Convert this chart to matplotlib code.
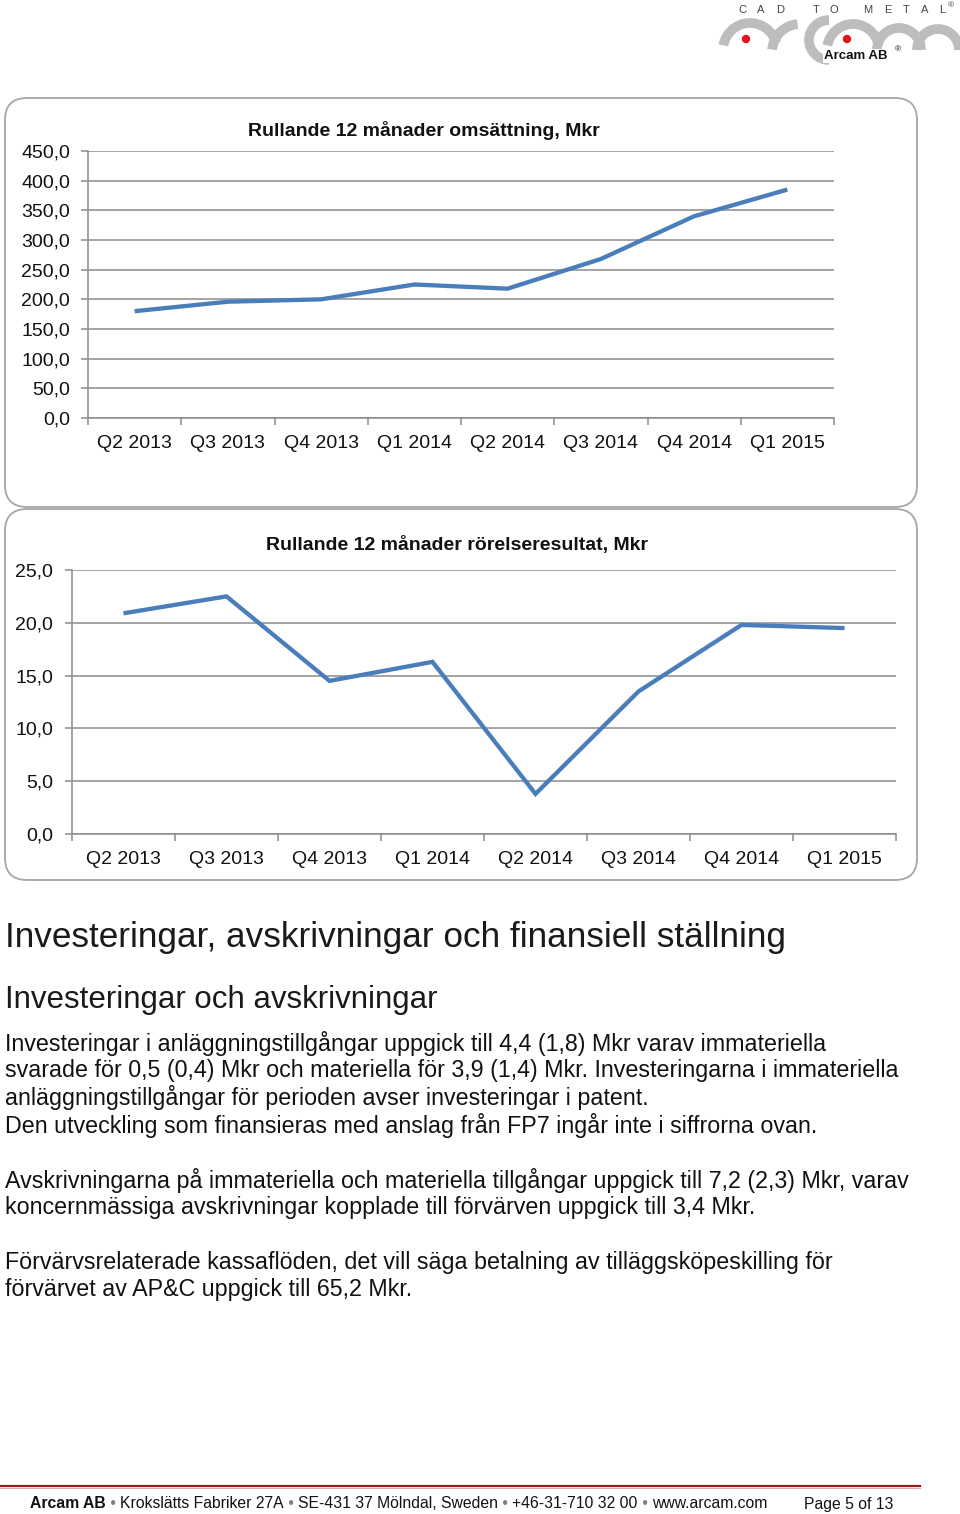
import matplotlib
matplotlib.use("Agg")
import matplotlib.pyplot as plt
from matplotlib.patches import FancyBboxPatch, Arc, Circle
from matplotlib.ticker import FixedLocator, FuncFormatter
import numpy as np

plt.rcParams['font.family'] = ['Liberation Sans', 'DejaVu Sans']

# data
quarters = ["Q2 2013", "Q3 2013", "Q4 2013", "Q1 2014",
            "Q2 2014", "Q3 2014", "Q4 2014", "Q1 2015"]
omsattning = [180, 196, 200, 225, 218, 268, 340, 385]
rorelseresultat = [20.9, 22.5, 14.5, 16.3, 3.8, 13.5, 19.8, 19.5]

title1 = "Rullande 12 månader omsättning, Mkr"
title2 = "Rullande 12 månader rörelseresultat, Mkr"
heading = "Investeringar, avskrivningar och finansiell ställning"
subheading = "Investeringar och avskrivningar"
body_lines = [
    "Investeringar i anläggningstillgångar uppgick till 4,4 (1,8) Mkr varav immateriella",
    "svarade för 0,5 (0,4) Mkr och materiella för 3,9 (1,4) Mkr. Investeringarna i immateriella",
    "anläggningstillgångar för perioden avser investeringar i patent.",
    "Den utveckling som finansieras med anslag från FP7 ingår inte i siffrorna ovan.",
    "",
    "Avskrivningarna på immateriella och materiella tillgångar uppgick till 7,2 (2,3) Mkr, varav",
    "koncernmässiga avskrivningar kopplade till förvärven uppgick till 3,4 Mkr.",
    "",
    "Förvärvsrelaterade kassaflöden, det vill säga betalning av tilläggsköpeskilling för",
    "förvärvet av AP&C uppgick till 65,2 Mkr.",
]
footer_parts = ["Arcam AB", "Krokslätts Fabriker 27A", "SE-431 37 Mölndal, Sweden",
                "+46-31-710 32 00", "www.arcam.com"]
page_text = "Page 5 of 13"

W, H = 960, 1514
fig = plt.figure(figsize=(W / 100, H / 100), dpi=100)

# background canvas in pixel coordinates
bg = fig.add_axes([0, 0, 1, 1], zorder=0)
bg.set_xlim(0, W)
bg.set_ylim(H, 0)
bg.axis("off")

box_col = "#a6a6a6"
for (x0, y0, x1, y1) in [(5, 98, 917, 507), (5, 509, 917, 880)]:
    bg.add_patch(FancyBboxPatch((x0, y0), x1 - x0, y1 - y0,
                                boxstyle="round,pad=0,rounding_size=22",
                                fc="white", ec=box_col, lw=1.3))

# logo
logo_gray = "#bdbdbd"
for cx, cy, r, t1, t2 in [(750, 50, 27, 15, 170), (800, 52, 28, 95, 175),
                          (829, 40, 20, 90, 270), (853, 50, 26, 10, 170),
                          (899, 50, 22, 0, 180), (938, 50, 21, 0, 180)]:
    bg.add_patch(Arc((cx, cy), 2 * r, 2 * r, theta1=-t2, theta2=-t1,
                     color=logo_gray, lw=7, capstyle="butt"))
for cx in (746, 847):
    bg.add_patch(Circle((cx, 39), 3.5, color="#e3141b", zorder=5))
for lx, ch in zip([742, 761, 780, 816, 834, 868, 888, 906, 925, 942],
                  "CADTOMETAL"):
    bg.text(lx, 10, ch, fontsize=8, color="#444444", ha="center", va="center")
bg.text(951, 6, "®", fontsize=6, color="#444444", ha="center", va="center")
bg.text(824, 56, "Arcam AB", fontsize=9.5, fontweight="bold", color="#111111",
        ha="left", va="center", zorder=6,
        bbox=dict(fc="white", ec="none", pad=0.5))
bg.text(898, 50, "®", fontsize=6, color="#111111", ha="center", va="center", zorder=6)

line_col = "#4a7ebb"
grid_col = "#8c8c8c"
tick_fmt = FuncFormatter(lambda v, p: f"{v:.1f}".replace(".", ","))


def make_chart(rect_px, values, ymax, ystep, title, title_x, title_y, xpad, ypad):
    l, t, r, b = rect_px
    ax = fig.add_axes([l / W, 1 - b / H, (r - l) / W, (b - t) / H], zorder=2)
    ax.patch.set_visible(False)
    x = np.arange(len(values))
    ax.plot(x, values, color=line_col, lw=3.1, solid_capstyle="butt",
            solid_joinstyle="miter", clip_on=False)
    ax.set_xlim(-0.5, len(values) - 0.5)
    ax.set_ylim(0, ymax)
    ax.yaxis.set_major_locator(FixedLocator(np.arange(0, ymax + ystep / 2, ystep)))
    ax.yaxis.set_major_formatter(tick_fmt)
    ax.set_xticks(x)
    ax.set_xticklabels(quarters)
    ax.set_xticks(np.arange(-0.5, len(values)), minor=True)
    ax.grid(axis="y", color=grid_col, lw=1.1)
    ax.set_axisbelow(True)
    for s in ("top", "right"):
        ax.spines[s].set_visible(False)
    for s in ("left", "bottom"):
        ax.spines[s].set_color(grid_col)
        ax.spines[s].set_linewidth(1.1)
    ax.tick_params(axis="x", which="major", length=0, pad=xpad, labelsize=14,
                   labelcolor="#111111")
    ax.tick_params(axis="x", which="minor", length=5, width=1.1, color=grid_col,
                   direction="out")
    ax.tick_params(axis="y", length=5, width=1.1, color=grid_col, pad=ypad,
                   labelsize=14, labelcolor="#111111")
    bg.text(title_x, title_y, title, fontsize=14, fontweight="bold",
            ha="center", va="center", color="#111111")
    return ax


make_chart((88, 151, 834, 418), omsattning, 450, 50, title1, 424, 130, 12, 8)
make_chart((72, 570, 896, 834), rorelseresultat, 25, 5, title2, 457, 545, 12.5, 8.5)

# text section
bg.text(5, 938, heading, fontsize=25.3, color="#1a1a1a", ha="left", va="center")
bg.text(5, 1000, subheading, fontsize=22.5, color="#1a1a1a", ha="left", va="center")
y = 1043
for line in body_lines:
    if line:
        bg.text(5, y, line, fontsize=16.75, color="#111111", ha="left", va="center")
    y += 27.4

# footer
bg.plot([0, 920], [1486, 1486], color="#9b1b1b", lw=1.6)
bg.plot([0, 920], [1488, 1488], color="#d9b0b0", lw=0.8)
fig.canvas.draw()
renderer = fig.canvas.get_renderer()
inv = bg.transData.inverted()
xpos = 30
fs_foot = 11.3
for i, part in enumerate(footer_parts):
    if i > 0:
        tb = bg.text(xpos, 1504, " • ", fontsize=fs_foot, color="#7f7f7f",
                     ha="left", va="center")
        ext = tb.get_window_extent(renderer)
        xpos = inv.transform((ext.x1, 0))[0]
    tp = bg.text(xpos, 1504, part, fontsize=fs_foot, color="#111111",
                 fontweight="bold" if i == 0 else "normal", ha="left", va="center")
    ext = tp.get_window_extent(renderer)
    xpos = inv.transform((ext.x1, 0))[0]
bg.text(804, 1504, page_text, fontsize=fs_foot, color="#111111", ha="left", va="center")

fig.savefig("out.png", dpi=100)
